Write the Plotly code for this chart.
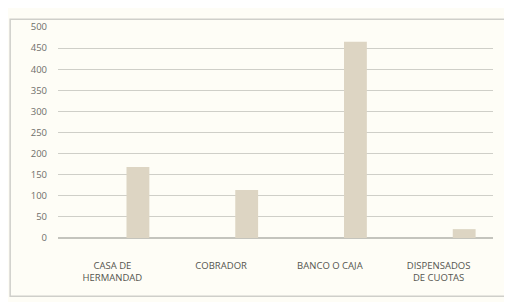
import plotly.graph_objects as go

categories = ["CASA DE<br>HERMANDAD", "COBRADOR", "BANCO O CAJA", "DISPENSADOS<br>DE CUOTAS"]
values = [168, 114, 465, 21]
y_ticks = [0, 50, 100, 150, 200, 250, 300, 350, 400, 450, 500]

fig = go.Figure()
fig.add_trace(go.Bar(
    x=categories, y=values,
    marker=dict(color="#ddd5c3", line=dict(width=0)),
    width=0.21, offset=0.13,
))

fig.update_layout(
    width=504, height=294,
    margin=dict(l=50, r=19, t=13, b=64),
    paper_bgcolor="#fefdf6",
    plot_bgcolor="#fefdf6",
    showlegend=False,
    font=dict(family="Open Sans", size=9, color="#6f6f6a"),
    xaxis=dict(showgrid=False, showline=False, ticks="", tickangle=0,
               ticklabelstandoff=20,
               tickfont=dict(size=9.5, color="#55554f")),
    yaxis=dict(range=[0, 500], tickvals=y_ticks, showgrid=True,
               gridcolor="#cfcfc8", gridwidth=1, zeroline=True,
               zerolinecolor="#c4c4bd", showline=False, ticks="",
               ticklabelstandoff=10,
               tickfont=dict(size=9.5, color="#6f6f6a")),
    shapes=[dict(type="rect", xref="paper", yref="paper",
                 x0=-0.110, x1=1.03, y0=-0.276, y1=1.037,
                 line=dict(color="#cfcfca", width=1.5))],
)

fig.write_html("out.html")
